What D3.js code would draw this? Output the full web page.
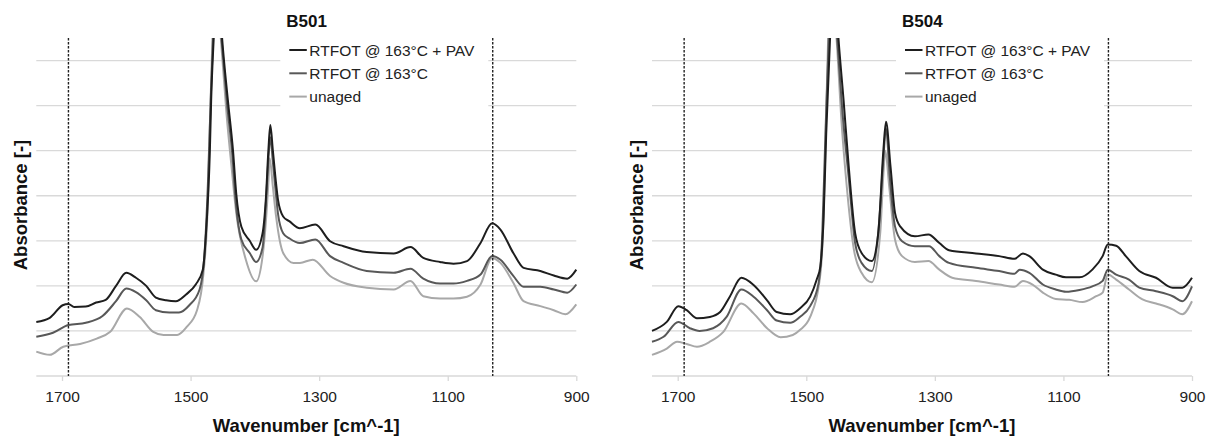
<!DOCTYPE html>
<html>
<head>
<meta charset="utf-8">
<script src="https://cdn.jsdelivr.net/npm/d3@7"></script>
<style>
  html, body { margin: 0; padding: 0; background: #fff; }
  svg { display: block; font-family: "Liberation Sans", Arial, sans-serif; }
</style>
</head>
<body>
<div id="chart"></div>
<script>
(function () {
  "use strict";

  // [wavenumber, absorbance (gridline units)]
  var b501Pav = [
    [1740,1.20],[1719,1.29],[1699,1.57],[1690,1.60],[1681,1.53],[1663,1.54],[1647,1.63],[1632,1.69],
    [1616,2.00],[1600,2.29],[1585,2.18],[1569,2.00],[1554,1.74],[1538,1.68],[1523,1.66],[1507,1.81],
    [1492,2.03],[1481,2.36],[1476,3.17],[1470,5.00],[1468,6.12],[1464,7.50],[1458,9.00],[1451,7.50],
    [1442,6.12],[1434,5.00],[1429,4.05],[1421,3.31],[1408,3.00],[1398,2.80],[1388,3.17],[1383,3.91],
    [1379,5.00],[1376,5.57],[1372,5.00],[1367,4.27],[1364,3.91],[1356,3.54],[1346,3.43],[1330,3.28],
    [1306,3.36],[1283,2.99],[1262,2.88],[1226,2.75],[1184,2.72],[1158,2.86],[1138,2.62],[1112,2.53],
    [1091,2.49],[1070,2.55],[1049,2.95],[1031,3.39],[1018,3.25],[998,2.73],[982,2.40],[956,2.33],
    [935,2.23],[914,2.16],[900,2.36]
  ];
  var b501Rtfot = [
    [1740,0.87],[1714,0.96],[1690,1.13],[1663,1.18],[1637,1.33],[1616,1.66],[1600,1.94],[1585,1.86],
    [1569,1.68],[1554,1.46],[1533,1.41],[1518,1.41],[1502,1.57],[1486,1.92],[1479,2.58],[1473,4.28],
    [1469,6.00],[1465,7.50],[1459,8.80],[1452,7.50],[1443,6.00],[1435,4.90],[1430,3.91],[1421,3.03],
    [1408,2.73],[1398,2.53],[1388,2.85],[1383,3.80],[1379,4.80],[1376,5.30],[1372,4.75],[1367,4.00],
    [1364,3.60],[1356,3.17],[1346,3.05],[1330,2.95],[1306,3.03],[1283,2.66],[1262,2.51],[1226,2.33],
    [1184,2.29],[1158,2.38],[1138,2.16],[1112,2.05],[1091,2.05],[1070,2.11],[1049,2.25],[1031,2.66],
    [1018,2.58],[998,2.22],[982,1.98],[956,1.98],[935,1.92],[914,1.85],[900,2.03]
  ];
  var b501Unaged = [
    [1740,0.54],[1719,0.47],[1698,0.65],[1672,0.71],[1646,0.83],[1625,0.98],[1599,1.50],[1579,1.31],
    [1558,0.98],[1542,0.91],[1521,0.91],[1506,1.09],[1490,1.46],[1480,2.27],[1474,3.53],[1470,5.50],
    [1466,7.50],[1460,8.60],[1453,7.50],[1444,5.80],[1436,4.60],[1429,3.62],[1414,2.58],[1398,2.10],
    [1388,2.66],[1383,3.40],[1379,4.30],[1377,4.83],[1372,4.20],[1367,3.54],[1356,2.73],[1340,2.51],
    [1330,2.51],[1310,2.58],[1283,2.22],[1262,2.07],[1226,1.96],[1184,1.92],[1158,2.11],[1138,1.77],
    [1112,1.72],[1091,1.72],[1070,1.76],[1049,2.03],[1031,2.62],[1018,2.51],[998,2.07],[982,1.66],
    [956,1.55],[935,1.46],[917,1.37],[900,1.59]
  ];

  var b504Pav = [
    [1740,1.00],[1717,1.20],[1699,1.55],[1686,1.46],[1670,1.28],[1650,1.31],[1634,1.42],[1619,1.76],
    [1601,2.18],[1582,2.02],[1561,1.68],[1546,1.42],[1525,1.37],[1510,1.50],[1494,1.76],[1484,2.13],
    [1478,2.44],[1473,3.54],[1469,5.38],[1463,7.50],[1457,9.00],[1450,7.50],[1442,6.12],[1434,4.65],
    [1424,3.17],[1414,2.73],[1398,2.55],[1388,3.17],[1380,5.02],[1376,5.64],[1369,4.65],[1362,3.62],
    [1354,3.32],[1331,3.10],[1310,3.14],[1293,2.95],[1278,2.79],[1236,2.72],[1200,2.66],[1176,2.60],
    [1163,2.72],[1153,2.66],[1132,2.36],[1112,2.25],[1096,2.19],[1075,2.19],[1055,2.36],[1039,2.66],
    [1031,2.92],[1018,2.89],[1003,2.66],[982,2.33],[956,2.18],[930,1.96],[915,1.96],[900,2.18]
  ];
  var b504Rtfot = [
    [1740,0.76],[1722,0.87],[1699,1.20],[1681,1.06],[1666,1.00],[1645,1.06],[1624,1.31],[1601,1.92],
    [1582,1.76],[1561,1.46],[1546,1.23],[1525,1.18],[1510,1.31],[1494,1.55],[1481,2.05],[1475,3.20],
    [1471,5.00],[1465,7.50],[1459,8.80],[1452,7.50],[1444,5.90],[1434,4.40],[1424,2.95],[1414,2.51],
    [1398,2.33],[1386,3.54],[1380,4.85],[1376,5.50],[1370,4.40],[1362,3.32],[1351,2.99],[1331,2.88],
    [1309,2.88],[1293,2.66],[1278,2.51],[1236,2.40],[1200,2.33],[1176,2.27],[1168,2.36],[1153,2.29],
    [1132,2.03],[1112,1.92],[1096,1.87],[1075,1.91],[1055,1.99],[1039,2.11],[1031,2.36],[1018,2.25],
    [998,2.14],[982,1.96],[956,1.88],[930,1.77],[915,1.66],[900,1.99]
  ];
  var b504Unaged = [
    [1740,0.47],[1717,0.61],[1701,0.76],[1686,0.71],[1670,0.65],[1650,0.76],[1629,0.98],[1601,1.61],
    [1582,1.39],[1561,1.06],[1540,0.86],[1521,0.91],[1510,1.02],[1494,1.31],[1478,2.27],[1473,3.60],
    [1470,5.20],[1466,7.50],[1460,8.60],[1453,7.50],[1445,5.60],[1437,4.20],[1426,2.81],[1414,2.29],
    [1398,2.08],[1385,3.17],[1380,4.50],[1377,5.00],[1371,4.20],[1362,3.03],[1351,2.66],[1331,2.53],
    [1310,2.55],[1293,2.36],[1273,2.18],[1236,2.11],[1200,2.03],[1176,1.98],[1163,2.11],[1148,2.03],
    [1132,1.85],[1112,1.71],[1091,1.69],[1070,1.64],[1049,1.77],[1039,1.85],[1031,2.25],[1018,2.14],
    [998,1.92],[977,1.70],[956,1.61],[930,1.48],[915,1.37],[900,1.66]
  ];

  var xTicks      = [1700, 1500, 1300, 1100, 900];
  var xDomain     = [1740, 900];
  var yGrid       = [0, 1, 2, 3, 4, 5, 6, 7];
  var markers     = [1690, 1030];
  var seriesNames = ["RTFOT @ 163°C + PAV", "RTFOT @ 163°C", "unaged"];

  var COLORS    = ["#1e1e1e", "#585858", "#a8a8a8"];
  var GRID      = "#d9d9d9";
  var W = 1213, H = 438;

  var svg = d3.select("#chart").append("svg")
    .attr("width", W)
    .attr("height", H);

  function drawPanel(left, title, series, id) {
    var right = left + 540;
    var top = 38, bottom = 376;

    var x = d3.scaleLinear().domain(xDomain).range([left, right]);
    var y = d3.scaleLinear().domain([0, 7.5]).range([bottom, top]);

    var g = svg.append("g");

    // gridlines
    g.selectAll("line.grid").data(yGrid).enter().append("line")
      .attr("x1", left).attr("x2", right)
      .attr("y1", function (d) { return y(d); })
      .attr("y2", function (d) { return y(d); })
      .attr("stroke", GRID)
      .attr("stroke-width", 1.3);

    // x axis
    var ax = g.append("g")
      .attr("transform", "translate(0," + bottom + ")")
      .call(d3.axisBottom(x).tickValues(xTicks).tickSize(5).tickPadding(10).tickFormat(d3.format("d")));
    ax.select(".domain").remove();
    ax.selectAll(".tick line").attr("stroke", GRID).attr("stroke-width", 1.3);
    ax.selectAll(".tick text")
      .attr("fill", "#222")
      .attr("font-size", "15.5px")
      .attr("font-family", "'Liberation Sans', Arial, sans-serif");

    // white legend backdrop
    g.append("rect")
      .attr("x", left + 244).attr("y", top - 5)
      .attr("width", 208).attr("height", 80)
      .attr("fill", "#fff");

    // data
    g.append("clipPath").attr("id", "clip-" + id)
      .append("rect")
        .attr("x", left - 2).attr("y", top)
        .attr("width", right - left + 4).attr("height", bottom - top);

    var line = d3.line()
      .x(function (d) { return x(d[0]); })
      .y(function (d) { return y(d[1]); })
      .curve(d3.curveMonotoneX);

    var lines = g.append("g").attr("clip-path", "url(#clip-" + id + ")");
    for (var i = series.length - 1; i >= 0; i--) {
      lines.append("path")
        .attr("d", line(series[i]))
        .attr("fill", "none")
        .attr("stroke", COLORS[i])
        .attr("stroke-width", 2)
        .attr("stroke-linejoin", "round");
    }

    // dashed markers
    g.selectAll("line.mark").data(markers).enter().append("line")
      .attr("x1", function (d) { return x(d); })
      .attr("x2", function (d) { return x(d); })
      .attr("y1", top).attr("y2", bottom)
      .attr("stroke", "#222")
      .attr("stroke-width", 1.4)
      .attr("stroke-dasharray", "2.5,1.5");

    // title
    g.append("text")
      .attr("x", left + 250).attr("y", 27)
      .attr("font-size", "17px")
      .attr("font-weight", "bold")
      .attr("fill", "#111")
      .text(title);

    // legend
    seriesNames.forEach(function (name, k) {
      var ly = 50 + k * 23.3;
      g.append("line")
        .attr("x1", left + 253).attr("x2", left + 270.5)
        .attr("y1", ly).attr("y2", ly)
        .attr("stroke", COLORS[k])
        .attr("stroke-width", 2);
      g.append("text")
        .attr("x", left + 273).attr("y", ly + 5.7)
        .attr("font-size", "15.5px")
        .attr("fill", "#222")
        .text(name);
    });

    // axis titles
    g.append("text")
      .attr("x", (left + right) / 2)
      .attr("y", 432)
      .attr("text-anchor", "middle")
      .attr("font-size", "18.5px")
      .attr("font-weight", "bold")
      .attr("fill", "#111")
      .text("Wavenumber [cm^-1]");

    g.append("text")
      .attr("transform", "translate(" + (left - 9.5) + ",205) rotate(-90)")
      .attr("text-anchor", "middle")
      .attr("font-size", "18.5px")
      .attr("font-weight", "bold")
      .attr("fill", "#111")
      .text("Absorbance [-]");
  }

  drawPanel(36.3, "B501", [b501Pav, b501Rtfot, b501Unaged], "a");
  drawPanel(652, "B504", [b504Pav, b504Rtfot, b504Unaged], "b");
}());
</script>
</body>
</html>
